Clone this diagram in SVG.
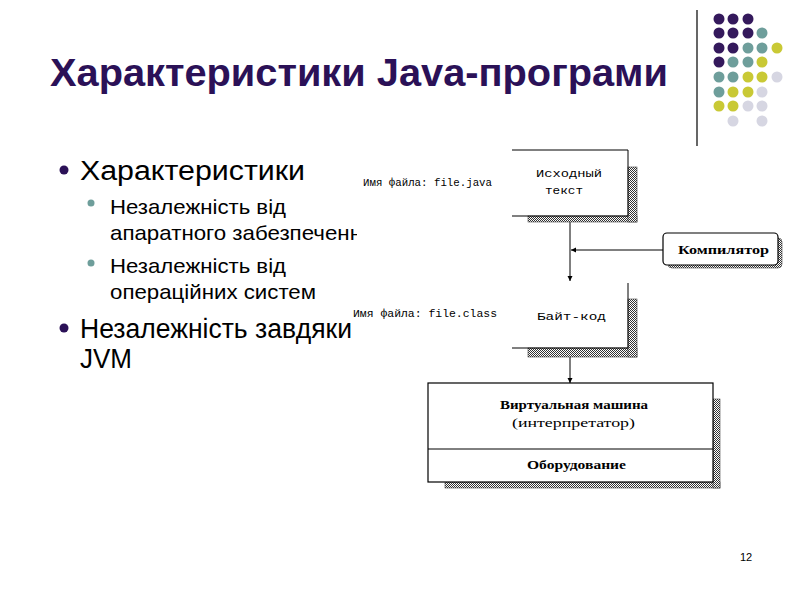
<svg xmlns="http://www.w3.org/2000/svg" width="800" height="600" viewBox="0 0 800 600">
<defs>
<style>
.title{font-family:"Liberation Sans",Arial,sans-serif;font-weight:bold;font-size:38px;fill:#2b1157}
.l1{font-family:"Liberation Sans",Arial,sans-serif;font-size:27px;fill:#000}
.l2{font-family:"Liberation Sans",Arial,sans-serif;font-size:21px;fill:#000}
.mono{font-family:"Liberation Mono","Courier New",monospace;font-size:11px;fill:#000}
.ser{font-family:"Liberation Serif","Times New Roman",serif;font-size:12px;fill:#000}
.serb{font-family:"Liberation Serif","Times New Roman",serif;font-size:12px;font-weight:bold;fill:#000}
.edge{stroke:#000;stroke-width:1;fill:none}
.box{stroke:#000;stroke-width:1.2;fill:#fff}
.shadow{fill:url(#dither);stroke:#444;stroke-width:0.6}
.pu{fill:#34195c}.te{fill:#6e9e9b}.ye{fill:#c9c935}.gr{fill:#d6d6e2}
</style>
<pattern id="dither" width="2" height="2" patternUnits="userSpaceOnUse">
<rect width="2" height="2" fill="#fff"/>
<rect width="1" height="1" fill="#333"/>
<rect x="1" y="1" width="1" height="1" fill="#333"/>
</pattern>
<marker id="arr" markerWidth="6" markerHeight="6" refX="5" refY="3" orient="auto" markerUnits="userSpaceOnUse">
<path d="M0,0.5 L5,3 L0,5.5 Z" fill="#000"/>
</marker>
<clipPath id="clipL"><rect x="0" y="0" width="357" height="600"/></clipPath>
</defs>
<rect width="800" height="600" fill="#fff"/>

<g id="decor">
<line x1="697" y1="10" x2="697" y2="146" stroke="#000" stroke-width="1.2"/>
<circle class="pu" cx="719" cy="19" r="5.5"/><circle class="pu" cx="733" cy="19" r="5.5"/><circle class="pu" cx="748" cy="19" r="5.5"/>
<circle class="pu" cx="719" cy="33" r="5.5"/><circle class="pu" cx="733" cy="33" r="5.5"/><circle class="pu" cx="748" cy="33" r="5.5"/><circle class="te" cx="762" cy="33" r="5.5"/>
<circle class="pu" cx="719" cy="48" r="5.5"/><circle class="pu" cx="733" cy="48" r="5.5"/><circle class="te" cx="748" cy="48" r="5.5"/><circle class="te" cx="762" cy="48" r="5.5"/><circle class="ye" cx="777" cy="48" r="5.5"/>
<circle class="pu" cx="719" cy="62" r="5.5"/><circle class="te" cx="733" cy="62" r="5.5"/><circle class="te" cx="748" cy="62" r="5.5"/><circle class="ye" cx="762" cy="62" r="5.5"/>
<circle class="te" cx="719" cy="77" r="5.5"/><circle class="te" cx="733" cy="77" r="5.5"/><circle class="ye" cx="748" cy="77" r="5.5"/><circle class="ye" cx="762" cy="77" r="5.5"/><circle class="gr" cx="777" cy="77" r="5.5"/>
<circle class="te" cx="719" cy="92" r="5.5"/><circle class="ye" cx="733" cy="92" r="5.5"/><circle class="ye" cx="748" cy="92" r="5.5"/><circle class="gr" cx="762" cy="92" r="5.5"/>
<circle class="ye" cx="719" cy="106" r="5.5"/><circle class="ye" cx="733" cy="106" r="5.5"/><circle class="gr" cx="748" cy="106" r="5.5"/><circle class="gr" cx="762" cy="106" r="5.5"/>
<circle class="gr" cx="733" cy="121" r="5.5"/><circle class="gr" cx="762" cy="121" r="5.5"/>
</g>

<text class="title" x="50" y="86" textLength="618" lengthAdjust="spacingAndGlyphs">Характеристики Java-програми</text>

<g id="bullets">
<circle cx="64" cy="170" r="4.5" fill="#2b1157"/>
<text class="l1" x="80" y="180" textLength="225" lengthAdjust="spacingAndGlyphs">Характеристики</text>
<circle cx="91" cy="203" r="3.5" fill="#6e9e9b"/>
<text class="l2" x="110" y="214" textLength="176" lengthAdjust="spacingAndGlyphs">Незалежність від</text>
<text class="l2" x="110" y="240" clip-path="url(#clipL)" textLength="252" lengthAdjust="spacingAndGlyphs">апаратного забезпеченн</text>
<circle cx="91" cy="263" r="3.5" fill="#6e9e9b"/>
<text class="l2" x="110" y="273" textLength="176" lengthAdjust="spacingAndGlyphs">Незалежність від</text>
<text class="l2" x="110" y="299" textLength="206" lengthAdjust="spacingAndGlyphs">операційних систем</text>
<circle cx="64" cy="328" r="4.5" fill="#2b1157"/>
<text class="l1" x="80" y="338" textLength="272" lengthAdjust="spacingAndGlyphs">Незалежність завдяки</text>
<text class="l1" x="80" y="368" textLength="52" lengthAdjust="spacingAndGlyphs">JVM</text>
</g>

<g id="connectors">
<line class="edge" x1="570" y1="216" x2="570" y2="281" marker-end="url(#arr)"/>
<line class="edge" x1="663" y1="250" x2="571" y2="250" marker-end="url(#arr)"/>
<line class="edge" x1="570" y1="348" x2="570" y2="383" marker-end="url(#arr)"/>
</g>

<g id="source">
<rect class="shadow" x="528" y="216" width="109" height="6"/>
<rect class="shadow" x="628" y="167" width="9" height="55"/>
<path class="edge" d="M512,150 H628 V216 H512" stroke-width="1.2"/>
<text class="mono" x="536" y="177" textLength="66" lengthAdjust="spacingAndGlyphs">Исходный</text>
<text class="mono" x="545" y="194" textLength="38" lengthAdjust="spacingAndGlyphs">текст</text>
<text class="mono" x="363" y="186" textLength="129" lengthAdjust="spacingAndGlyphs">Имя файла: file.java</text>
</g>

<g id="compiler">
<rect x="668" y="238" width="114" height="30" rx="4" fill="url(#dither)" stroke="#444" stroke-width="0.6"/>
<rect class="box" x="663" y="233" width="115" height="32" rx="4"/>
<text class="serb" x="678" y="254" textLength="91" lengthAdjust="spacingAndGlyphs">Компилятор</text>
</g>

<g id="bytecode">
<rect class="shadow" x="528" y="348" width="109" height="9"/>
<rect class="shadow" x="628" y="299" width="9" height="58"/>
<path class="edge" d="M628,283 V348 H512" stroke-width="1.2"/>
<text class="mono" x="537" y="320" textLength="69" lengthAdjust="spacingAndGlyphs">Байт-код</text>
<text class="mono" x="353" y="317" textLength="144" lengthAdjust="spacingAndGlyphs">Имя файла: file.class</text>
</g>

<g id="jvm">
<rect class="shadow" x="445" y="482" width="275" height="6"/>
<rect class="shadow" x="713" y="399" width="7" height="89"/>
<rect class="box" x="428" y="383" width="285" height="99"/>
<line class="edge" x1="428" y1="449" x2="713" y2="449" stroke-width="1.2"/>
<text class="serb" x="500" y="409" textLength="148" lengthAdjust="spacingAndGlyphs">Виртуальная машина</text>
<text class="ser" x="512" y="427" textLength="123" lengthAdjust="spacingAndGlyphs">(интерпретатор)</text>
<text class="serb" x="527" y="469" textLength="99" lengthAdjust="spacingAndGlyphs">Оборудование</text>
</g>

<text x="740" y="561" font-family="Liberation Sans,Arial,sans-serif" font-size="11" fill="#000">12</text>
</svg>
